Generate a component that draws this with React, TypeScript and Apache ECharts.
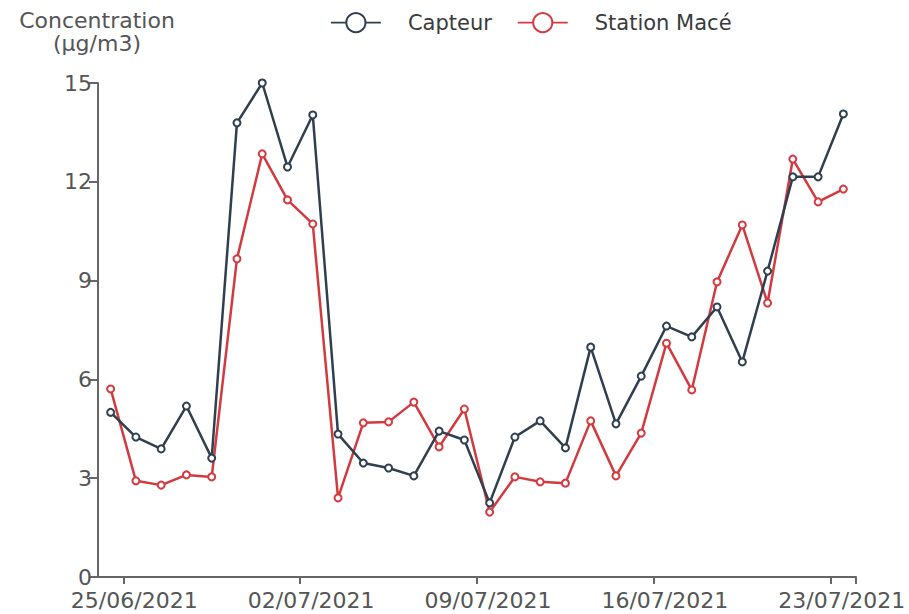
import React, { useEffect, useRef } from "react";
import * as echarts from "echarts";

const startDay = [2021, 5, 24];
const capteur = [5.0, 4.25, 3.89, 5.19, 3.61, 13.79, 15.0, 12.45, 14.03, 4.34, 3.46, 3.31, 3.07, 4.43, 4.16, 2.25, 4.25, 4.74, 3.92, 6.98, 4.65, 6.1, 7.62, 7.29, 8.2, 6.53, 9.29, 12.15, 12.15, 14.06];
const stationMace = [5.71, 2.92, 2.79, 3.1, 3.04, 9.66, 12.85, 11.45, 10.72, 2.4, 4.68, 4.71, 5.31, 3.95, 5.1, 1.97, 3.04, 2.89, 2.85, 4.74, 3.07, 4.37, 7.1, 5.68, 8.96, 10.69, 8.32, 12.69, 11.39, 11.78];
const tickLabels = ["25/06/2021", "02/07/2021", "09/07/2021", "16/07/2021", "23/07/2021"];
const seriesNames = ["Capteur", "Station Macé"];
const yTitle = "Concentration\n(µg/m3)";

const FONT = "DejaVu Sans";
const DAY = 86400000;

function parseLabel(s: string) {
  const [d, m, y] = s.split("/").map(Number);
  return Date.UTC(y, m - 1, d);
}

export default function App() {
  const ref = useRef<HTMLDivElement>(null);
  useEffect(() => {
    document.body.style.margin = "0";
    const chart = echarts.init(ref.current!, null, { renderer: "svg" });
    const base = Date.UTC(startDay[0], startDay[1], startDay[2]);
    const tickPos = tickLabels.map((s) => Math.round((parseLabel(s) - base) / DAY));
    const xMax = capteur.length;
    const mk = (vals: number[]) => vals.map((v, i) => [i + 0.5, v]);
    const pad = (n: number) => (n < 10 ? "0" + n : "" + n);
    chart.setOption({
      animation: false,
      backgroundColor: "#ffffff",
      grid: { left: 98, right: 53, top: 83, bottom: 37 },
      legend: {
        top: 12,
        left: 330,
        padding: 0,
        itemWidth: 50,
        itemHeight: 24,
        itemGap: 25,
        lineStyle: { width: 1.8 },
        itemStyle: { borderWidth: 2 },
        textStyle: {
          fontFamily: FONT,
          fontSize: 21,
          color: "#3a3a3a",
          padding: [0, 0, 0, 22],
        },
        data: seriesNames,
      },
      graphic: [
        {
          type: "text",
          x: 97,
          y: 9,
          style: {
            text: yTitle,
            fontFamily: FONT,
            fontSize: 22,
            lineHeight: 23,
            fill: "#555555",
            align: "center",
            verticalAlign: "top",
          },
        },
      ],
      xAxis: {
        type: "value",
        min: 0,
        max: xMax,
        splitLine: { show: false },
        axisLine: { lineStyle: { color: "#666666", width: 2 } },
        axisTick: {
          show: true,
          length: 7,
          customValues: [...tickPos, xMax],
          lineStyle: { color: "#666666", width: 2 },
        },
        axisLabel: {
          customValues: tickPos,
          margin: 14,
          lineHeight: 18,
          padding: [0, 0, 0, 22],
          fontFamily: FONT,
          fontSize: 22,
          color: "#555555",
          formatter: (v: number) => {
            const d = new Date(base + v * DAY);
            return pad(d.getUTCDate()) + "/" + pad(d.getUTCMonth() + 1) + "/" + d.getUTCFullYear();
          },
        },
      },
      yAxis: {
        type: "value",
        min: 0,
        max: 15,
        interval: 3,
        splitLine: { show: false },
        axisLine: { show: true, lineStyle: { color: "#666666", width: 2 } },
        axisTick: { show: true, length: 9, lineStyle: { color: "#666666", width: 2 } },
        axisLabel: {
          margin: 6,
          lineHeight: 18,
          fontFamily: FONT,
          fontSize: 22,
          color: "#555555",
        },
      },
      series: [
        {
          name: seriesNames[0],
          type: "line",
          data: mk(capteur),
          symbol: "emptyCircle",
          symbolSize: 7,
          color: "#2f3f4f",
          lineStyle: { width: 2.5, color: "#2f3f4f" },
          itemStyle: { color: "#2f3f4f", borderWidth: 1.5 },
          z: 3,
        },
        {
          name: seriesNames[1],
          type: "line",
          data: mk(stationMace),
          symbol: "emptyCircle",
          symbolSize: 7,
          color: "#d33a3f",
          lineStyle: { width: 2.5, color: "#d33a3f" },
          itemStyle: { color: "#d33a3f", borderWidth: 1.5 },
          z: 2,
        },
      ],
    });
    return () => chart.dispose();
  }, []);
  return <div ref={ref} style={{ width: 909, height: 614 }} />;
}
